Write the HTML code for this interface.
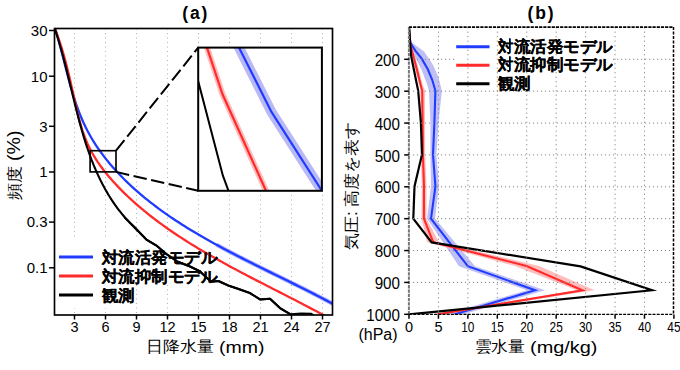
<!DOCTYPE html><html><head><meta charset="utf-8"><style>html,body{margin:0;padding:0;background:#fff;overflow:hidden}svg{display:block}</style></head><body><svg width="680" height="370" viewBox="0 0 680 370">
<rect width="680" height="370" fill="#fff"/>
<line x1="74.5" y1="28.5" x2="74.5" y2="315.0" stroke="#b0b0b0" stroke-width="1" stroke-dasharray="1 3.5"/>
<line x1="105.5" y1="28.5" x2="105.5" y2="315.0" stroke="#b0b0b0" stroke-width="1" stroke-dasharray="1 3.5"/>
<line x1="136.5" y1="28.5" x2="136.5" y2="315.0" stroke="#b0b0b0" stroke-width="1" stroke-dasharray="1 3.5"/>
<line x1="167.5" y1="28.5" x2="167.5" y2="315.0" stroke="#b0b0b0" stroke-width="1" stroke-dasharray="1 3.5"/>
<line x1="198.5" y1="28.5" x2="198.5" y2="315.0" stroke="#b0b0b0" stroke-width="1" stroke-dasharray="1 3.5"/>
<line x1="229.5" y1="28.5" x2="229.5" y2="315.0" stroke="#b0b0b0" stroke-width="1" stroke-dasharray="1 3.5"/>
<line x1="260.5" y1="28.5" x2="260.5" y2="315.0" stroke="#b0b0b0" stroke-width="1" stroke-dasharray="1 3.5"/>
<line x1="291.5" y1="28.5" x2="291.5" y2="315.0" stroke="#b0b0b0" stroke-width="1" stroke-dasharray="1 3.5"/>
<line x1="322.5" y1="28.5" x2="322.5" y2="315.0" stroke="#b0b0b0" stroke-width="1" stroke-dasharray="1 3.5"/>
<rect x="56" y="240" width="162" height="45" fill="#fff"/>
<rect x="56" y="285" width="80" height="23" fill="#fff"/>
<clipPath id="ca"><rect x="54.5" y="28.5" width="278" height="286.5"/></clipPath>
<g clip-path="url(#ca)" fill="none" stroke-linejoin="round" stroke-linecap="round">
<polyline points="217.58,245.36 220.65,247.02 223.74,248.68 226.83,250.32 229.93,251.95 233.04,253.57 236.15,255.18 239.27,256.78 242.39,258.37 245.51,259.95 248.64,261.53 251.77,263.09 254.90,264.66 258.03,266.21 261.16,267.76 264.29,269.31 267.42,270.85 270.54,272.39 273.67,273.92 276.79,275.45 279.91,276.99 283.02,278.51 286.13,280.04 289.23,281.57 292.33,283.10 295.42,284.63 298.50,286.16 301.57,287.70 304.64,289.24 307.69,290.78 310.74,292.32 313.77,293.87 316.79,295.42 319.81,296.98 322.80,298.55 325.79,300.12 328.76,301.70 331.71,303.29" stroke="#b4b4ff" stroke-width="4.2"/>
<polyline points="55.09,28.33 56.07,31.55 57.02,34.79 57.95,38.06 58.87,41.35 59.76,44.66 60.64,47.99 61.51,51.34 62.38,54.70 63.24,58.08 64.10,61.46 64.96,64.86 65.83,68.25 66.70,71.65 67.59,75.06 68.49,78.45 69.41,81.85 70.35,85.24 71.31,88.62 72.30,91.99 73.33,95.35 74.38,98.69 75.47,102.02 76.60,105.32 77.78,108.61 79.00,111.86 80.26,115.10 81.58,118.30 82.96,121.47 84.39,124.61 85.89,127.71 87.45,130.78 89.07,133.80 90.76,136.79 92.50,139.74 94.30,142.65 96.16,145.53 98.08,148.37 100.05,151.17 102.06,153.94 104.13,156.67 106.25,159.37 108.40,162.03 110.61,164.66 112.85,167.25 115.14,169.81 117.46,172.34 119.82,174.83 122.21,177.29 124.64,179.72 127.09,182.12 129.58,184.48 132.09,186.82 134.63,189.12 137.20,191.39 139.80,193.64 142.42,195.85 145.06,198.04 147.74,200.20 150.43,202.34 153.15,204.45 155.89,206.53 158.66,208.59 161.44,210.62 164.25,212.63 167.07,214.61 169.92,216.58 172.78,218.52 175.67,220.44 178.57,222.33 181.48,224.21 184.42,226.07 187.37,227.91 190.33,229.73 193.31,231.53 196.30,233.31 199.31,235.08 202.32,236.83 205.35,238.57 208.39,240.29 211.44,241.99 214.51,243.68 217.58,245.36 220.65,247.02 223.74,248.68 226.83,250.32 229.93,251.95 233.04,253.57 236.15,255.18 239.27,256.78 242.39,258.37 245.51,259.95 248.64,261.53 251.77,263.09 254.90,264.66 258.03,266.21 261.16,267.76 264.29,269.31 267.42,270.85 270.54,272.39 273.67,273.92 276.79,275.45 279.91,276.99 283.02,278.51 286.13,280.04 289.23,281.57 292.33,283.10 295.42,284.63 298.50,286.16 301.57,287.70 304.64,289.24 307.69,290.78 310.74,292.32 313.77,293.87 316.79,295.42 319.81,296.98 322.80,298.55 325.79,300.12 328.76,301.70 331.71,303.29" stroke="#1f3cff" stroke-width="2.3"/>
<polyline points="54.75,28.47 56.02,31.71 57.25,34.96 58.43,38.24 59.56,41.53 60.65,44.85 61.70,48.18 62.72,51.53 63.70,54.90 64.65,58.28 65.56,61.68 66.46,65.09 67.33,68.52 68.17,71.96 69.00,75.41 69.82,78.86 70.62,82.33 71.41,85.81 72.19,89.29 72.96,92.78 73.74,96.28 74.51,99.78 75.29,103.28 76.09,106.78 76.90,110.27 77.74,113.75 78.62,117.22 79.53,120.66 80.49,124.09 81.51,127.48 82.58,130.85 83.72,134.18 84.94,137.47 86.24,140.72 87.62,143.92 89.10,147.07 90.67,150.17 92.33,153.22 94.08,156.22 95.90,159.17 97.81,162.08 99.78,164.94 101.83,167.76 103.93,170.54 106.10,173.27 108.33,175.97 110.60,178.62 112.92,181.24 115.29,183.83 117.69,186.38 120.13,188.89 122.60,191.38 125.10,193.83 127.63,196.25 130.19,198.64 132.77,201.00 135.38,203.34 138.02,205.64 140.68,207.92 143.36,210.17 146.08,212.39 148.81,214.58 151.57,216.75 154.35,218.90 157.15,221.02 159.97,223.11 162.81,225.19 165.67,227.24 168.55,229.26 171.45,231.27 174.37,233.25 177.31,235.22 180.26,237.16 183.22,239.08 186.20,240.99 189.20,242.88 192.21,244.75 195.23,246.60 198.27,248.43 201.31,250.25 204.37,252.05 207.44,253.84 210.52,255.61 213.61,257.37 216.71,259.12 219.81,260.85 222.92,262.58 226.04,264.29 229.17,265.99 232.30,267.67 235.43,269.35 238.57,271.02 241.72,272.68 244.86,274.33 248.01,275.98 251.16,277.61 254.31,279.25 257.46,280.87 260.61,282.49 263.76,284.10 266.91,285.71 270.05,287.32 273.19,288.92 276.33,290.52 279.47,292.12 282.59,293.72 285.72,295.32 288.84,296.91 291.95,298.51 295.05,300.10 298.14,301.70 301.23,303.30 304.31,304.91 307.37,306.51 310.43,308.12 313.47,309.73 316.50,311.35 319.52,312.98 322.53,314.61 325.52,316.24" stroke="#ff2a2a" stroke-width="2.3"/>
<polyline points="54.72,28.56 55.29,30.26 55.86,31.96 56.42,33.66 56.97,35.37 57.51,37.09 58.05,38.81 58.58,40.53 59.10,42.26 59.62,43.99 60.12,45.73 60.63,47.47 61.12,49.21 61.61,50.96 62.10,52.71 62.58,54.47 63.05,56.22 63.52,57.98 63.99,59.75 64.45,61.51 64.91,63.28 65.37,65.06 65.82,66.83 66.27,68.61 66.71,70.38 67.15,72.16 67.59,73.95 68.03,75.73 68.47,77.51 68.91,79.30 69.34,81.09 69.77,82.88 70.21,84.67 70.64,86.46 71.07,88.25 71.50,90.04 71.93,91.83 72.37,93.63 72.80,95.42 73.24,97.21 73.67,99.00 74.11,100.79 74.55,102.59 74.99,104.38 75.44,106.17 75.88,107.95 76.33,109.74 76.79,111.53 77.24,113.32 77.70,115.10 78.17,116.88 78.64,118.66 79.11,120.44 79.59,122.22 80.07,123.99 80.56,125.76 81.05,127.53 81.55,129.30 82.06,131.07 82.57,132.83 83.09,134.59 83.62,136.34 84.15,138.09 84.69,139.84 85.24,141.59 85.80,143.33 86.36,145.07 86.93,146.80 87.52,148.53 88.11,150.25 88.71,151.98 89.31,153.69 89.93,155.40 90.56,157.11 91.20,158.81 91.85,160.51 92.51,162.20 93.18,163.88 93.87,165.56 94.56,167.24 95.27,168.91 95.99,170.57 96.72,172.23 97.46,173.88 98.22,175.52 98.99,177.16 99.77,178.79 100.57,180.41 101.38,182.03 102.21,183.64 103.04,185.24 103.90,186.83 104.77,188.42 105.65,190.00 106.55,191.57 107.47,193.14 108.40,194.69 109.35,196.24 110.31,197.78 111.30,199.31 112.30,200.83 113.31,202.35 114.35,203.85 115.40,205.34 116.47,206.83 117.56,208.31 118.66,209.77 119.79,211.23 120.93,212.68 122.10,214.12 123.28,215.54 124.49,216.96 125.71,218.37 126.96,219.76 128.22,221.15 129.51,222.52 130.82,223.89 132.15,225.24 133.50,226.58 134.87,227.91 146.40,239.60 156.10,245.30 166.60,254.20 177.20,261.50 190.00,266.50 199.70,271.20 211.10,281.80 218.40,281.00 228.90,285.80 238.60,289.00 250.00,293.10 260.00,299.40 270.00,298.80 280.00,308.10 290.60,314.40 301.30,313.50 311.30,313.80 313.10,315.00" stroke="#000" stroke-width="2.1"/>
</g>
<rect x="90.1" y="150.7" width="25.9" height="21.2" fill="none" stroke="#000" stroke-width="1.65"/>
<line x1="116" y1="150.7" x2="198.2" y2="47.6" stroke="#000" stroke-width="2" stroke-dasharray="13.5 4.5"/>
<line x1="116" y1="171.9" x2="198.2" y2="190.8" stroke="#000" stroke-width="2" stroke-dasharray="13.5 4.5"/>
<rect x="198.2" y="47.6" width="123.69999999999999" height="143.20000000000002" fill="#fff"/>
<clipPath id="ci"><rect x="198.2" y="47.6" width="123.69999999999999" height="143.20000000000002"/></clipPath>
<g clip-path="url(#ci)" fill="none" stroke-linejoin="round">
<polyline points="237.50,44.60 271.60,112.20 323.00,192.50" stroke="#b9b9f5" stroke-width="10"/>
<polyline points="237.50,44.60 271.60,112.20 323.00,192.50" stroke="#1f3cff" stroke-width="2.2"/>
<polyline points="206.00,44.60 222.40,94.00 267.00,193.00" stroke="#ffbcbc" stroke-width="6"/>
<polyline points="206.00,44.60 222.40,94.00 267.00,193.00" stroke="#ff2a2a" stroke-width="2.2"/>
<polyline points="196.00,72.90 222.90,175.70 229.30,193.00" stroke="#000" stroke-width="2"/>
</g>
<rect x="198.2" y="47.6" width="123.69999999999999" height="143.20000000000002" fill="none" stroke="#000" stroke-width="2"/>
<rect x="54.5" y="28.5" width="278.0" height="286.5" fill="none" stroke="#000" stroke-width="1.65"/>
<line x1="49" y1="30.49" x2="54.5" y2="30.49" stroke="#000" stroke-width="1.5"/>
<text x="47.5" y="35.79" font-family="Liberation Sans, sans-serif" font-size="15" text-anchor="end">30</text>
<line x1="49" y1="76.20" x2="54.5" y2="76.20" stroke="#000" stroke-width="1.5"/>
<text x="47.5" y="81.50" font-family="Liberation Sans, sans-serif" font-size="15" text-anchor="end">10</text>
<line x1="49" y1="126.29" x2="54.5" y2="126.29" stroke="#000" stroke-width="1.5"/>
<text x="47.5" y="131.59" font-family="Liberation Sans, sans-serif" font-size="15" text-anchor="end">3</text>
<line x1="49" y1="172.00" x2="54.5" y2="172.00" stroke="#000" stroke-width="1.5"/>
<text x="47.5" y="177.30" font-family="Liberation Sans, sans-serif" font-size="15" text-anchor="end">1</text>
<line x1="49" y1="222.09" x2="54.5" y2="222.09" stroke="#000" stroke-width="1.5"/>
<text x="47.5" y="227.39" font-family="Liberation Sans, sans-serif" font-size="15" text-anchor="end">0.3</text>
<line x1="49" y1="267.80" x2="54.5" y2="267.80" stroke="#000" stroke-width="1.5"/>
<text x="47.5" y="273.10" font-family="Liberation Sans, sans-serif" font-size="15" text-anchor="end">0.1</text>
<line x1="74.5" y1="315.0" x2="74.5" y2="319.5" stroke="#000" stroke-width="1.5"/>
<text x="74.5" y="332.3" font-family="Liberation Sans, sans-serif" font-size="14.5" text-anchor="middle">3</text>
<line x1="105.5" y1="315.0" x2="105.5" y2="319.5" stroke="#000" stroke-width="1.5"/>
<text x="105.5" y="332.3" font-family="Liberation Sans, sans-serif" font-size="14.5" text-anchor="middle">6</text>
<line x1="136.5" y1="315.0" x2="136.5" y2="319.5" stroke="#000" stroke-width="1.5"/>
<text x="136.5" y="332.3" font-family="Liberation Sans, sans-serif" font-size="14.5" text-anchor="middle">9</text>
<line x1="167.5" y1="315.0" x2="167.5" y2="319.5" stroke="#000" stroke-width="1.5"/>
<text x="167.5" y="332.3" font-family="Liberation Sans, sans-serif" font-size="14.5" text-anchor="middle">12</text>
<line x1="198.5" y1="315.0" x2="198.5" y2="319.5" stroke="#000" stroke-width="1.5"/>
<text x="198.5" y="332.3" font-family="Liberation Sans, sans-serif" font-size="14.5" text-anchor="middle">15</text>
<line x1="229.5" y1="315.0" x2="229.5" y2="319.5" stroke="#000" stroke-width="1.5"/>
<text x="229.5" y="332.3" font-family="Liberation Sans, sans-serif" font-size="14.5" text-anchor="middle">18</text>
<line x1="260.5" y1="315.0" x2="260.5" y2="319.5" stroke="#000" stroke-width="1.5"/>
<text x="260.5" y="332.3" font-family="Liberation Sans, sans-serif" font-size="14.5" text-anchor="middle">21</text>
<line x1="291.5" y1="315.0" x2="291.5" y2="319.5" stroke="#000" stroke-width="1.5"/>
<text x="291.5" y="332.3" font-family="Liberation Sans, sans-serif" font-size="14.5" text-anchor="middle">24</text>
<line x1="322.5" y1="315.0" x2="322.5" y2="319.5" stroke="#000" stroke-width="1.5"/>
<text x="322.5" y="332.3" font-family="Liberation Sans, sans-serif" font-size="14.5" text-anchor="middle">27</text>
<text x="182.2" y="19.2" font-family="Liberation Sans, sans-serif" font-size="17.5" font-weight="bold" letter-spacing="1.9">(a)</text>
<text x="145.8" y="352.2" font-family="Liberation Sans, sans-serif" font-size="15.6" textLength="68" lengthAdjust="spacingAndGlyphs">日降水量</text>
<text x="219" y="352.5" font-family="Liberation Sans, sans-serif" font-size="17" textLength="45.5" lengthAdjust="spacingAndGlyphs">(mm)</text>
<text transform="translate(19.5,199.5) rotate(-90)" font-family="Liberation Sans, sans-serif" font-size="16" textLength="34" lengthAdjust="spacingAndGlyphs">頻度</text>
<text transform="translate(19.5,199.5) rotate(-90)" x="38.5" font-family="Liberation Sans, sans-serif" font-size="17.5" textLength="30.5" lengthAdjust="spacingAndGlyphs">(%)</text>
<line x1="59" y1="257.1" x2="93" y2="257.1" stroke="#1f3cff" stroke-width="3"/>
<text x="102" y="262.70000000000005" font-family="Liberation Sans, sans-serif" font-size="16" font-weight="bold" stroke="#000" stroke-width="0.2" textLength="115" lengthAdjust="spacingAndGlyphs">対流活発モデル</text>
<line x1="59" y1="276.1" x2="93" y2="276.1" stroke="#ff2a2a" stroke-width="3"/>
<text x="102" y="281.70000000000005" font-family="Liberation Sans, sans-serif" font-size="16" font-weight="bold" stroke="#000" stroke-width="0.2" textLength="115" lengthAdjust="spacingAndGlyphs">対流抑制モデル</text>
<line x1="59" y1="295.1" x2="93" y2="295.1" stroke="#000" stroke-width="3"/>
<text x="102" y="300.70000000000005" font-family="Liberation Sans, sans-serif" font-size="16" font-weight="bold" stroke="#000" stroke-width="0.2" textLength="32.5" lengthAdjust="spacingAndGlyphs">観測</text>
<g clip-path="url(#ca)" fill="none" stroke-linejoin="round" stroke-linecap="round">
<polyline points="124.90,217.80 135.00,227.40 146.40,239.60 156.10,245.30 166.60,254.20 177.20,261.50 190.00,266.50 199.70,271.20 211.10,281.80 218.40,281.00 228.90,285.80 238.60,289.00 250.00,293.10 260.00,299.40 270.00,298.80 280.00,308.10 290.60,314.40" stroke="#000" stroke-width="2"/>
</g>
<clipPath id="cb"><rect x="408.9" y="27.1" width="264.6" height="287.3"/></clipPath>
<g clip-path="url(#cb)">
<polygon points="409.00,27.30 409.90,42.90 412.90,52.60 421.70,70.10 427.00,84.20 429.00,90.80 430.40,122.70 430.40,154.50 431.00,186.50 427.00,218.60 459.00,266.20 527.00,290.20 445.00,314.40 463.00,314.40 545.00,290.20 475.00,266.20 435.00,218.60 439.00,186.50 436.40,154.50 438.50,122.70 441.90,90.80 438.40,77.20 433.10,64.90 424.30,51.70 411.20,42.00 409.00,27.30" fill="#b4b4f4" opacity="0.85"/>
<polygon points="409.00,27.30 409.80,44.70 412.00,56.10 415.20,70.10 419.00,84.20 420.20,90.80 420.50,122.70 420.80,154.50 421.80,186.50 421.50,218.60 427.00,242.20 515.00,266.00 577.00,290.20 434.50,314.40 441.00,314.40 594.60,290.20 539.00,266.00 439.00,242.20 426.50,218.60 426.50,186.50 425.20,154.50 425.00,122.70 425.00,90.80 422.50,84.20 419.00,70.10 415.00,56.10 411.00,44.70 409.00,27.30" fill="#ffb0b0" opacity="0.85"/>
<g fill="none" stroke-linejoin="miter" stroke-miterlimit="10">
<polyline points="409.00,27.30 410.30,42.90 415.50,50.80 421.70,58.70 427.80,69.30 432.20,79.80 435.40,90.80 434.40,122.70 433.00,154.50 435.40,186.50 431.00,218.60 467.80,266.20 535.10,290.20 454.30,314.40" stroke="#1f3cff" stroke-width="2.1"/>
<polyline points="409.00,27.30 410.30,44.70 413.40,56.10 417.00,70.10 420.50,84.20 422.20,90.80 422.60,122.70 422.90,154.50 424.00,186.50 423.90,218.60 433.20,242.20 526.50,266.00 582.50,290.20 437.50,314.40" stroke="#ff2a2a" stroke-width="2.1"/>
<polyline points="409.00,27.30 411.20,56.10 414.70,73.70 418.20,90.80 420.90,122.70 422.00,154.50 414.50,186.50 413.30,218.60 431.70,242.40 580.50,266.40 652.00,290.25 409.00,314.40" stroke="#000" stroke-width="2.2"/>
</g></g>
<line x1="408.9" y1="59.30" x2="455" y2="59.30" stroke="#888" stroke-width="1" stroke-dasharray="1.2 2.8"/>
<line x1="613" y1="59.30" x2="673.5" y2="59.30" stroke="#888" stroke-width="1" stroke-dasharray="1.2 2.8"/>
<line x1="408.9" y1="91.17" x2="673.5" y2="91.17" stroke="#888" stroke-width="1" stroke-dasharray="1.2 2.8"/>
<line x1="408.9" y1="123.05" x2="673.5" y2="123.05" stroke="#888" stroke-width="1" stroke-dasharray="1.2 2.8"/>
<line x1="408.9" y1="154.93" x2="673.5" y2="154.93" stroke="#888" stroke-width="1" stroke-dasharray="1.2 2.8"/>
<line x1="408.9" y1="186.80" x2="673.5" y2="186.80" stroke="#888" stroke-width="1" stroke-dasharray="1.2 2.8"/>
<line x1="408.9" y1="218.68" x2="673.5" y2="218.68" stroke="#888" stroke-width="1" stroke-dasharray="1.2 2.8"/>
<line x1="408.9" y1="250.55" x2="673.5" y2="250.55" stroke="#888" stroke-width="1" stroke-dasharray="1.2 2.8"/>
<line x1="408.9" y1="282.42" x2="673.5" y2="282.42" stroke="#888" stroke-width="1" stroke-dasharray="1.2 2.8"/>
<line x1="438.44" y1="27.1" x2="438.44" y2="314.4" stroke="#888" stroke-width="1" stroke-dasharray="1.2 3.3"/>
<line x1="467.87" y1="27.1" x2="467.87" y2="314.4" stroke="#888" stroke-width="1" stroke-dasharray="1.2 3.3"/>
<line x1="497.31" y1="27.1" x2="497.31" y2="314.4" stroke="#888" stroke-width="1" stroke-dasharray="1.2 3.3"/>
<line x1="526.74" y1="27.1" x2="526.74" y2="314.4" stroke="#888" stroke-width="1" stroke-dasharray="1.2 3.3"/>
<line x1="556.17" y1="27.1" x2="556.17" y2="314.4" stroke="#888" stroke-width="1" stroke-dasharray="1.2 3.3"/>
<line x1="585.61" y1="27.1" x2="585.61" y2="314.4" stroke="#888" stroke-width="1" stroke-dasharray="1.2 3.3"/>
<line x1="615.04" y1="27.1" x2="615.04" y2="314.4" stroke="#888" stroke-width="1" stroke-dasharray="1.2 3.3"/>
<line x1="644.48" y1="27.1" x2="644.48" y2="314.4" stroke="#888" stroke-width="1" stroke-dasharray="1.2 3.3"/>
<line x1="408.9" y1="27.1" x2="408.9" y2="314.4" stroke="#777" stroke-width="2" stroke-dasharray="3.3 1"/>
<line x1="408.9" y1="27.1" x2="673.5" y2="27.1" stroke="#000" stroke-width="1.6" stroke-dasharray="3.2 1"/>
<line x1="673.5" y1="27.1" x2="673.5" y2="314.4" stroke="#000" stroke-width="1.5" stroke-dasharray="3 1.5"/>
<line x1="408.9" y1="314.4" x2="673.5" y2="314.4" stroke="#000" stroke-width="1.4" stroke-dasharray="3 1.2"/>
<line x1="404.2" y1="59.30" x2="408.9" y2="59.30" stroke="#000" stroke-width="1.5"/>
<text x="400" y="65.90" font-family="Liberation Sans, sans-serif" font-size="17" text-anchor="end" textLength="25.35" lengthAdjust="spacingAndGlyphs">200</text>
<line x1="404.2" y1="91.17" x2="408.9" y2="91.17" stroke="#000" stroke-width="1.5"/>
<text x="400" y="97.77" font-family="Liberation Sans, sans-serif" font-size="17" text-anchor="end" textLength="25.35" lengthAdjust="spacingAndGlyphs">300</text>
<line x1="404.2" y1="123.05" x2="408.9" y2="123.05" stroke="#000" stroke-width="1.5"/>
<text x="400" y="129.65" font-family="Liberation Sans, sans-serif" font-size="17" text-anchor="end" textLength="25.35" lengthAdjust="spacingAndGlyphs">400</text>
<line x1="404.2" y1="154.93" x2="408.9" y2="154.93" stroke="#000" stroke-width="1.5"/>
<text x="400" y="161.53" font-family="Liberation Sans, sans-serif" font-size="17" text-anchor="end" textLength="25.35" lengthAdjust="spacingAndGlyphs">500</text>
<line x1="404.2" y1="186.80" x2="408.9" y2="186.80" stroke="#000" stroke-width="1.5"/>
<text x="400" y="193.40" font-family="Liberation Sans, sans-serif" font-size="17" text-anchor="end" textLength="25.35" lengthAdjust="spacingAndGlyphs">600</text>
<line x1="404.2" y1="218.68" x2="408.9" y2="218.68" stroke="#000" stroke-width="1.5"/>
<text x="400" y="225.28" font-family="Liberation Sans, sans-serif" font-size="17" text-anchor="end" textLength="25.35" lengthAdjust="spacingAndGlyphs">700</text>
<line x1="404.2" y1="250.55" x2="408.9" y2="250.55" stroke="#000" stroke-width="1.5"/>
<text x="400" y="257.15" font-family="Liberation Sans, sans-serif" font-size="17" text-anchor="end" textLength="25.35" lengthAdjust="spacingAndGlyphs">800</text>
<line x1="404.2" y1="282.42" x2="408.9" y2="282.42" stroke="#000" stroke-width="1.5"/>
<text x="400" y="289.02" font-family="Liberation Sans, sans-serif" font-size="17" text-anchor="end" textLength="25.35" lengthAdjust="spacingAndGlyphs">900</text>
<line x1="404.2" y1="314.30" x2="408.9" y2="314.30" stroke="#000" stroke-width="1.5"/>
<text x="400" y="320.90" font-family="Liberation Sans, sans-serif" font-size="17" text-anchor="end" textLength="33.80" lengthAdjust="spacingAndGlyphs">1000</text>
<line x1="409.00" y1="314.4" x2="409.00" y2="318.7" stroke="#000" stroke-width="1.5"/>
<text x="409.00" y="331.8" font-family="Liberation Sans, sans-serif" font-size="14.5" text-anchor="middle">0</text>
<line x1="438.44" y1="314.4" x2="438.44" y2="318.7" stroke="#000" stroke-width="1.5"/>
<text x="438.44" y="331.8" font-family="Liberation Sans, sans-serif" font-size="14.5" text-anchor="middle">5</text>
<line x1="467.87" y1="314.4" x2="467.87" y2="318.7" stroke="#000" stroke-width="1.5"/>
<text x="467.87" y="331.8" font-family="Liberation Sans, sans-serif" font-size="14.5" text-anchor="middle" textLength="13.2" lengthAdjust="spacingAndGlyphs">10</text>
<line x1="497.31" y1="314.4" x2="497.31" y2="318.7" stroke="#000" stroke-width="1.5"/>
<text x="497.31" y="331.8" font-family="Liberation Sans, sans-serif" font-size="14.5" text-anchor="middle" textLength="13.2" lengthAdjust="spacingAndGlyphs">15</text>
<line x1="526.74" y1="314.4" x2="526.74" y2="318.7" stroke="#000" stroke-width="1.5"/>
<text x="526.74" y="331.8" font-family="Liberation Sans, sans-serif" font-size="14.5" text-anchor="middle" textLength="13.2" lengthAdjust="spacingAndGlyphs">20</text>
<line x1="556.17" y1="314.4" x2="556.17" y2="318.7" stroke="#000" stroke-width="1.5"/>
<text x="556.17" y="331.8" font-family="Liberation Sans, sans-serif" font-size="14.5" text-anchor="middle" textLength="13.2" lengthAdjust="spacingAndGlyphs">25</text>
<line x1="585.61" y1="314.4" x2="585.61" y2="318.7" stroke="#000" stroke-width="1.5"/>
<text x="585.61" y="331.8" font-family="Liberation Sans, sans-serif" font-size="14.5" text-anchor="middle" textLength="13.2" lengthAdjust="spacingAndGlyphs">30</text>
<line x1="615.04" y1="314.4" x2="615.04" y2="318.7" stroke="#000" stroke-width="1.5"/>
<text x="615.04" y="331.8" font-family="Liberation Sans, sans-serif" font-size="14.5" text-anchor="middle" textLength="13.2" lengthAdjust="spacingAndGlyphs">35</text>
<line x1="644.48" y1="314.4" x2="644.48" y2="318.7" stroke="#000" stroke-width="1.5"/>
<text x="644.48" y="331.8" font-family="Liberation Sans, sans-serif" font-size="14.5" text-anchor="middle" textLength="13.2" lengthAdjust="spacingAndGlyphs">40</text>
<line x1="673.91" y1="314.4" x2="673.91" y2="318.7" stroke="#000" stroke-width="1.5"/>
<text x="673.91" y="331.8" font-family="Liberation Sans, sans-serif" font-size="14.5" text-anchor="middle" textLength="13.2" lengthAdjust="spacingAndGlyphs">45</text>
<text x="397.6" y="339.6" font-family="Liberation Sans, sans-serif" font-size="16" text-anchor="end">(hPa)</text>
<text x="527.5" y="19.2" font-family="Liberation Sans, sans-serif" font-size="17.5" font-weight="bold" letter-spacing="1.9">(b)</text>
<text x="474.5" y="352.2" font-family="Liberation Sans, sans-serif" font-size="15.6" textLength="50.5" lengthAdjust="spacingAndGlyphs">雲水量</text>
<text x="530" y="352.5" font-family="Liberation Sans, sans-serif" font-size="17" textLength="67.5" lengthAdjust="spacingAndGlyphs">(mg/kg)</text>
<text transform="translate(357,250) rotate(-90)" font-family="Liberation Sans, sans-serif" font-size="16" textLength="128" lengthAdjust="spacingAndGlyphs">気圧: 高度を表す</text>
<line x1="456.2" y1="46.75" x2="489.5" y2="46.75" stroke="#1f3cff" stroke-width="3"/>
<text x="497.5" y="51.95" font-family="Liberation Sans, sans-serif" font-size="16" font-weight="bold" stroke="#000" stroke-width="0.2" textLength="115" lengthAdjust="spacingAndGlyphs">対流活発モデル</text>
<line x1="456.2" y1="65.25" x2="489.5" y2="65.25" stroke="#ff2a2a" stroke-width="3"/>
<text x="497.5" y="70.45" font-family="Liberation Sans, sans-serif" font-size="16" font-weight="bold" stroke="#000" stroke-width="0.2" textLength="115" lengthAdjust="spacingAndGlyphs">対流抑制モデル</text>
<line x1="456.2" y1="83.75" x2="489.5" y2="83.75" stroke="#000" stroke-width="3"/>
<text x="497.5" y="88.95" font-family="Liberation Sans, sans-serif" font-size="16" font-weight="bold" stroke="#000" stroke-width="0.2" textLength="32.5" lengthAdjust="spacingAndGlyphs">観測</text>
</svg></body></html>
